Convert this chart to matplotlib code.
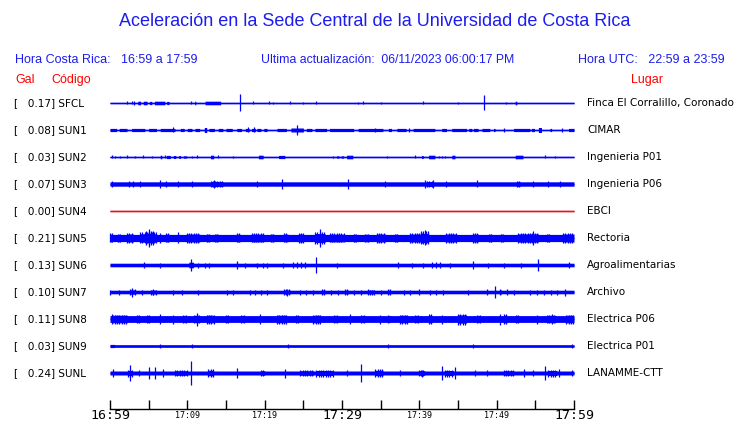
import numpy as np
import matplotlib
matplotlib.use("Agg")
import matplotlib.pyplot as plt

# ---------------- data ----------------
codes = ["SFCL", "SUN1", "SUN2", "SUN3", "SUN4", "SUN5", "SUN6", "SUN7", "SUN8", "SUN9", "SUNL"]
gal = [0.17, 0.08, 0.03, 0.07, 0.00, 0.21, 0.13, 0.10, 0.11, 0.03, 0.24]
places = ["Finca El Corralillo, Coronado", "CIMAR", "Ingenieria P01", "Ingenieria P06", "EBCI",
          "Rectoria", "Agroalimentarias", "Archivo", "Electrica P06", "Electrica P01", "LANAMME-CTT"]

tick_minutes = list(range(0, 61, 5))
tick_labels = ["16:59", "", "17:09", "", "17:19", "", "17:29", "", "17:39", "", "17:49", "", "17:59"]

# trace background amplitude (half-width of the quiet band)
base_amp = [0.7, 0.7, 0.7, 2.2, 0.7, 3.6, 1.8, 1.8, 3.4, 1.3, 2.0]

# bursts: (start minute, end minute, half amplitude); start == end -> single spike
bursts_SFCL = [(2.24, 2.24, 1.5), (2.89, 2.89, 1.5), (3.15, 3.15, 2), (3.6, 3.97, 1.8), (4.3, 4.8, 1.8),
               (5.1, 5.4, 1.6), (5.75, 7.1, 1.8), (7.33, 7.63, 1.6), (10.5, 10.5, 1.5), (10.95, 11.1, 1.8),
               (12.3, 14.3, 1.8), (16.85, 16.85, 8.5), (18.5, 18.5, 1.5), (20.6, 20.6, 1.5), (21.1, 21.1, 1.2),
               (23.3, 23.3, 1.5), (25.0, 25.0, 1.2), (26.7, 26.7, 1.5), (32.1, 32.1, 1.2), (32.75, 32.75, 1.5),
               (35.1, 35.1, 1.2), (40.5, 40.5, 1.5), (45.0, 45.0, 1.2), (48.3, 48.3, 7.5), (51.2, 51.2, 1.2),
               (52.4, 52.6, 1.8)]
bursts_SUN1 = [(0, 0.86, 1.6), (1.2, 2.2, 1.6), (2.8, 4.5, 1.6), (5.0, 6.0, 1.6), (6.5, 8.4, 1.6),
               (8.2, 8.2, 2.5), (9.1, 9.6, 1.6), (10.0, 10.6, 1.6), (11.0, 11.6, 1.6), (12.2, 12.5, 2.5),
               (12.8, 13.5, 1.6), (14.0, 14.6, 1.6), (15.0, 15.8, 1.6), (16.4, 17.0, 1.6), (17.5, 18.0, 1.6),
               (17.8, 17.8, 2.5), (18.3, 18.8, 1.6), (18.6, 18.6, 2.5), (19.0, 19.5, 1.6), (19.9, 20.3, 1.6),
               (21.6, 22.8, 1.6), (23.4, 25.0, 2.0), (24.2, 24.2, 5), (25.4, 26.1, 1.6), (26.5, 28.0, 1.6),
               (28.4, 31.5, 1.6), (32.1, 33.6, 1.6), (33.6, 35.3, 1.6), (34.3, 34.3, 2.2), (36.0, 36.4, 1.6),
               (37.1, 38.3, 1.6), (38.6, 38.6, 1.6), (39.2, 42.0, 1.6), (42.9, 43.5, 1.6), (44.2, 46.1, 1.6),
               (46.4, 46.8, 1.6), (46.98, 47.6, 1.6), (48.1, 49.1, 1.6), (49.6, 49.8, 1.6), (51.0, 51.0, 1.6),
               (52.2, 54.3, 1.6), (54.5, 54.9, 1.6), (55.4, 55.8, 2.5), (56.9, 57.1, 1.6), (58.4, 58.4, 1.6),
               (59.3, 60, 1.6)]
bursts_SUN2 = [(0.2, 0.2, 1.5), (0.65, 0.65, 1.2), (1.3, 1.3, 1.2), (2.16, 2.16, 1.5), (3.2, 3.2, 1.2),
               (4.3, 4.3, 1.5), (5.4, 5.4, 1.2), (6.5, 6.7, 1.8), (7.1, 7.1, 1.5), (7.3, 7.8, 1.6),
               (8.2, 8.5, 1.5), (8.9, 9.1, 1.5), (9.5, 9.9, 1.2), (10.6, 10.6, 1.2), (11.2, 11.2, 1.5),
               (13.0, 13.4, 1.8), (14.0, 14.0, 1.5), (15.95, 15.95, 1.2), (19.2, 19.8, 1.8), (21.8, 22.6, 1.6),
               (28.9, 28.9, 1.2), (29.3, 29.6, 1.2), (29.9, 30.2, 1.2), (30.6, 31.4, 1.8), (35.8, 35.8, 1.2),
               (39.4, 39.4, 1.5), (40.3, 40.5, 1.5), (41.2, 42.0, 1.8), (42.5, 42.5, 1.2), (42.9, 42.9, 1.2),
               (43.3, 43.3, 1.2), (44.2, 44.6, 1.8), (52.4, 53.4, 1.8), (56.3, 56.3, 1.5), (57.5, 57.5, 1.2)]
bursts_SUN3 = [(0.2, 0.2, 3.2), (2.4, 2.4, 3.2), (3.0, 3.0, 3.0), (3.9, 3.9, 3.2), (6.5, 6.5, 4.2),
               (7.3, 7.3, 3.0), (8.8, 8.8, 3.2), (10.6, 10.6, 3.0), (13.0, 14.6, 3.2), (13.4, 13.4, 3.8),
               (19.0, 19.0, 3.2), (22.2, 22.2, 4.8), (30.8, 30.8, 4.8), (35.6, 35.6, 3.2), (40.7, 40.7, 3.8),
               (41.8, 41.8, 3.8), (41.0, 41.6, 3.0), (43.5, 43.5, 3.2), (47.4, 47.4, 3.5), (52.6, 53.0, 3.2),
               (54.7, 54.7, 3.0), (56.7, 56.7, 3.0), (58.2, 58.2, 3.0)]
bursts_SUN4 = []
bursts_SUN5 = [(0, 0.3, 4.5), (1.0, 1.3, 4.2), (2.2, 3.0, 4.8), (3.9, 6.0, 5.5), (5.1, 5.1, 9), (4.7, 5.6, 7),
               (6.5, 6.5, 5), (7.2, 7.6, 4.5), (8.8, 8.8, 5.5), (9.9, 11.6, 4.8), (12.5, 12.8, 4.2),
               (13.6, 14.0, 4.2), (16.4, 16.8, 4.5), (18.3, 19.8, 4.5), (20.8, 21.2, 4.2), (22.5, 23.0, 4.5),
               (24.4, 25.0, 5.0), (26.5, 27.8, 6), (27.2, 27.2, 9), (28.4, 30.2, 4.5), (31.5, 31.8, 4.2),
               (33.0, 33.4, 4.2), (34.5, 35.6, 4.8), (36.8, 37.2, 4.2), (38.8, 40.3, 4.8), (40.2, 41.2, 6.5),
               (40.7, 40.7, 7.5), (43.5, 44.8, 4.8), (46.9, 47.6, 4.6), (49.0, 49.4, 4.2), (50.5, 50.8, 4.2),
               (52.8, 55.4, 5.2), (54.7, 54.7, 7.2), (56.5, 56.8, 4.2), (58.6, 60, 4.8)]
bursts_SUN6 = [(4.4, 4.4, 2.6), (6.5, 6.5, 2.5), (10.5, 10.5, 6), (10.2, 10.8, 2.8), (11.4, 11.4, 2.5),
               (12.3, 12.3, 2.5), (12.8, 12.8, 2.5), (16.4, 16.4, 4), (17.5, 17.5, 2.5), (19.0, 19.0, 2.5),
               (19.8, 19.8, 2.5), (20.3, 20.3, 2.5), (22.4, 22.4, 2.5), (23.7, 23.7, 3), (24.2, 24.2, 2.8),
               (24.7, 24.7, 3), (25.2, 25.2, 2.8), (26.6, 26.6, 8), (29.3, 29.3, 2.5), (37.2, 37.2, 3),
               (39.0, 39.0, 2.5), (40.5, 40.5, 2.5), (41.6, 41.6, 3), (42.2, 42.2, 2.8), (42.7, 42.7, 3),
               (43.97, 43.97, 2.5), (47.0, 47.0, 4), (48.9, 48.9, 2.5), (50.9, 50.9, 2.5), (53.2, 53.2, 2.5),
               (55.4, 55.4, 6), (59.4, 59.4, 3)]
bursts_SUN7 = [(0, 0, 2.5), (1.2, 1.2, 2.5), (2.9, 2.9, 4.5), (2.6, 3.2, 3), (4.2, 4.2, 2.5), (5.6, 5.6, 3),
               (5.3, 5.9, 2.5), (8.2, 8.2, 2.5), (9.3, 9.3, 2.5), (11.4, 11.4, 2.5), (15.1, 15.1, 2.5),
               (15.9, 15.9, 2.5), (18.1, 18.1, 2.5), (18.8, 18.8, 2.5), (19.5, 19.5, 2.5), (20.3, 20.3, 2.5),
               (22.9, 22.9, 3.5), (22.5, 23.3, 2.6), (24.6, 24.6, 2.5), (25.4, 25.4, 2.5), (26.3, 26.3, 2.5),
               (27.4, 27.8, 2.6), (28.6, 28.6, 2.5), (29.5, 29.5, 2.5), (30.4, 30.8, 2.6), (31.6, 31.6, 2.5),
               (32.5, 32.5, 2.5), (33.4, 33.6, 2.6), (33.6, 34.2, 2.5), (35.0, 35.0, 2.5), (35.9, 36.2, 2.6),
               (38.0, 38.0, 2.5), (38.8, 38.8, 2.5), (39.9, 39.9, 3), (41.4, 41.4, 2.5), (42.2, 42.2, 2.5),
               (43.1, 43.1, 2.5), (46.3, 46.3, 2.5), (48.8, 48.8, 3), (49.8, 49.8, 6), (50.4, 50.6, 3),
               (51.4, 51.4, 2.6), (52.2, 52.2, 2.5), (54.3, 54.3, 2.5), (55.2, 55.2, 2.5), (56.1, 56.1, 2.5),
               (57.0, 57.0, 2.5), (57.8, 57.8, 2.5), (58.8, 58.8, 3.5)]
bursts_SUN8 = [(0.3, 0.5, 5), (0.6, 2.2, 4.5), (3.5, 3.8, 4), (4.8, 5.1, 4), (6.5, 6.5, 4.8), (8.2, 8.2, 4.5),
               (9.5, 9.8, 4), (11.2, 11.2, 6.5), (10.9, 11.5, 4.2), (12.5, 13.4, 4.5), (15.0, 15.3, 4),
               (17.0, 17.3, 4), (19.4, 19.4, 5), (21.6, 22.8, 4.5), (24.0, 24.3, 4), (26.3, 27.2, 4.5),
               (29.0, 29.3, 4), (31.0, 31.0, 5), (32.5, 32.8, 4), (34.9, 34.9, 4.5), (36.0, 36.2, 4),
               (37.5, 38.4, 4.5), (39.5, 39.8, 4), (41.2, 41.6, 5), (42.9, 42.9, 4.5), (45.0, 46.1, 5.5),
               (47.5, 47.8, 4), (50.4, 50.4, 5.5), (50.9, 51.3, 4.8), (52.5, 52.8, 4), (55.2, 55.2, 4.5),
               (57.1, 57.1, 5), (56.5, 57.6, 4.2), (59.0, 59.9, 4.5)]
bursts_SUN9 = [(0.0, 0.6, 1.6), (6.5, 6.5, 2.2), (10.6, 10.6, 1.8), (23.0, 23.0, 1.8), (36.0, 36.0, 1.8),
               (47.0, 47.0, 1.6), (59.8, 59.8, 1.8)]
bursts_SUNL = [(0.4, 0.4, 4), (2.6, 2.6, 8.3), (2.3, 2.9, 3.5), (3.7, 3.7, 3), (5.0, 5.0, 6), (5.8, 5.8, 6),
               (6.9, 6.9, 4), (8.4, 9.9, 3), (10.5, 10.5, 11.7), (12.7, 13.4, 4), (16.4, 16.4, 5),
               (19.5, 20.0, 3), (22.6, 22.6, 4.5), (24.6, 26.3, 3), (26.7, 28.9, 3.5), (30.6, 30.6, 3),
               (32.5, 32.5, 9), (34.3, 35.3, 4), (37.5, 37.5, 3), (40.3, 40.3, 3.5), (39.9, 40.7, 3),
               (42.9, 42.9, 7), (43.3, 44.4, 3.5), (44.6, 44.6, 5.7), (47.2, 47.2, 3), (48.7, 48.7, 3),
               (50.9, 52.2, 3), (53.5, 53.5, 4), (54.7, 54.7, 3), (56.3, 56.3, 7), (56.7, 57.8, 3.5),
               (58.0, 58.0, 4), (59.7, 59.7, 3)]

bursts = [bursts_SFCL, bursts_SUN1, bursts_SUN2, bursts_SUN3, bursts_SUN4, bursts_SUN5,
          bursts_SUN6, bursts_SUN7, bursts_SUN8, bursts_SUN9, bursts_SUNL]

# ---------------- style ----------------
W, H = 740, 423
BLUE_TXT = "#1c1cf0"
trace_colors = ["blue"] * 11
trace_colors[4] = "#e01818"
hairy_rows = {3, 5, 7, 8, 10}   # bursts drawn as comb of hairs rather than solid blocks
HAIR_STEP = 0.3                 # minutes between hairs inside a burst

fig = plt.figure(figsize=(W / 100, H / 100), dpi=100)
fig.patch.set_facecolor("white")

def fx(px):
    return px / W

def fy(py):
    return 1 - py / H

hdr = "Liberation Sans"
fig.text(fx(375), fy(21), "Aceleración en la Sede Central de la Universidad de Costa Rica",
         ha="center", va="center", fontsize=13, color=BLUE_TXT, family=hdr)
fig.text(fx(15), fy(60), "Hora Costa Rica:   16:59 a 17:59", ha="left", va="center",
         fontsize=9, color=BLUE_TXT, family=hdr)
fig.text(fx(261), fy(60), "Ultima actualización:  06/11/2023 06:00:17 PM", ha="left", va="center",
         fontsize=8.8, color=BLUE_TXT, family=hdr)
fig.text(fx(725), fy(60), "Hora UTC:   22:59 a 23:59", ha="right", va="center",
         fontsize=9, color=BLUE_TXT, family=hdr)
fig.text(fx(15), fy(80), "Gal", ha="left", va="center", fontsize=9, color="red", family=hdr)
fig.text(fx(51), fy(80), "Código", ha="left", va="center", fontsize=9, color="red", family=hdr)
fig.text(fx(631), fy(80), "Lugar", ha="left", va="center", fontsize=9, color="red", family=hdr)

# trace axes: x from 110 to 574 px, bottom spine at y=409 px, top at y=90 px
ax_top, ax_bot = 90, 409
ax = fig.add_axes([fx(110), fy(ax_bot), (574 - 110) / W, (ax_bot - ax_top) / H])
ax.set_xlim(0, 60)
ax.set_ylim(ax_bot - ax_top, 0)
for s in ("left", "right", "top"):
    ax.spines[s].set_visible(False)
ax.spines["bottom"].set_linewidth(1.0)
ax.set_yticks([])
ax.patch.set_alpha(0)

t = np.linspace(0, 60, 4801)
row0, step = 13, 27
for i, code in enumerate(codes):
    yc = row0 + step * i
    col = trace_colors[i]
    b = base_amp[i]
    env = np.full_like(t, b)
    spikes_t, spikes_a = [], []
    for (t0, t1, a) in bursts[i]:
        if t1 > t0:
            m = (t >= t0) & (t <= t1)
            if i in hairy_rows:
                env[m] = np.maximum(env[m], b + 0.35 * (a - b))
                ht = np.arange(t0, t1 + 1e-9, HAIR_STEP)
                spikes_t.extend(ht)
                spikes_a.extend([a] * len(ht))
            else:
                env[m] = np.maximum(env[m], a)
        else:
            spikes_t.append(t0)
            spikes_a.append(a)
    ax.fill_between(t, yc - env, yc + env, color=col, lw=0, clip_on=False)
    ax.plot([0, 60], [yc, yc], color=col, lw=1.0, solid_capstyle="butt", clip_on=False)
    if spikes_t:
        sa = np.array(spikes_a)
        ax.vlines(spikes_t, yc - sa, yc + sa, color=col, lw=0.9, clip_on=False)
    fig.text(fx(14), fy(103 + step * i), f"[{gal[i]:7.2f}] {code}", ha="left", va="center",
             fontsize=7.5, color="black", family="DejaVu Sans")
    fig.text(fx(587), fy(103 + step * i), places[i], ha="left", va="center",
             fontsize=7.5, color="black", family="DejaVu Sans")

ax.set_xticks(tick_minutes)
ax.set_xticklabels(tick_labels)
ax.tick_params(axis="x", direction="in", length=6.5, width=1.0, pad=5, colors="black")
for lab in ax.get_xticklabels():
    lab.set_family("DejaVu Sans Mono")
    lab.set_va("center")
    if lab.get_text() in ("16:59", "17:29", "17:59"):
        lab.set_fontsize(9.5)
    else:
        lab.set_fontsize(6)

fig.savefig("out.png", dpi=100, facecolor="white")
